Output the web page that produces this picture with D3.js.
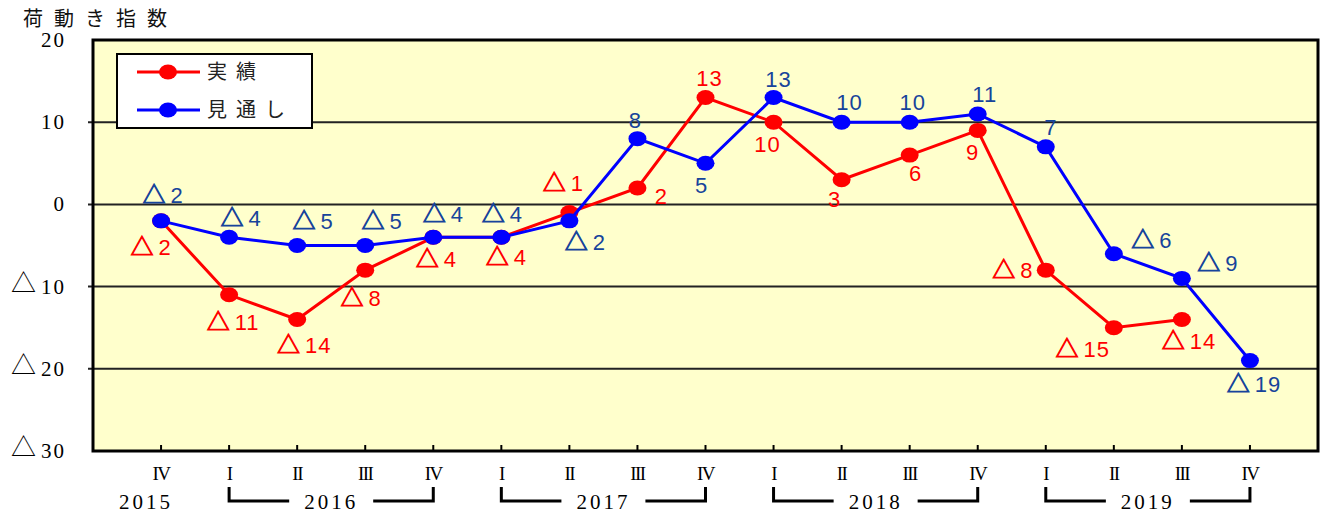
<!DOCTYPE html>
<html>
<head>
<meta charset="utf-8">
<script src="https://cdn.jsdelivr.net/npm/d3@7"></script>
<style>
  body { margin: 0; background: #fff; }
  text { font-family: "Liberation Serif", "Noto Sans CJK JP", serif; }
  .lbl { font-family: "Liberation Sans", sans-serif; font-size: 22px; letter-spacing: 1px; }
  .tri { font-family: "Noto Sans CJK JP", sans-serif; }
  .jp { font-family: "Noto Sans CJK JP", sans-serif; }
</style>
</head>
<body>
<script>
// quarters along the x axis, 2015 IV .. 2019 IV
var quarters = ["IV", "I", "II", "III", "IV", "I", "II", "III", "IV", "I", "II", "III", "IV", "I", "II", "III", "IV"];
var actual  = [-2, -11, -14, -8, -4, -4, -1, 2, 13, 10, 3, 6, 9, -8, -15, -14, null];
var outlook = [-2, -4, -5, -5, -4, -4, -2, 8, 5, 13, 10, 10, 11, 7, -6, -9, -19];
var years = [
  {label: "2015", from: 0, to: 0},
  {label: "2016", from: 1, to: 4},
  {label: "2017", from: 5, to: 8},
  {label: "2018", from: 9, to: 12},
  {label: "2019", from: 13, to: 16}
];
var yTicks = [20, 10, 0, -10, -20, -30];
var gridTicks = [10, 0, -10, -20];

// where each value label sits relative to its point
var actualLabelPos = [[-10,26],[4,27],[7,26],[-4,28],[3,22],[5,20],[-6,-30],[24,8],[4,-19],[-6,22],[-7,19],[6,18],[-5,22],[-33,0],[-31,21],[7,22],null];
var outlookLabelPos = [[2,-26],[12,-19],[16,-24],[17,-24],[10,-23],[1,-23],[16,21],[-2,-19],[-4,22],[5,-18],[8,-20],[3,-20],[7,-20],[5,-20],[38,-14],[36,-15],[4,23]];

var W = 1322, H = 513;
var pLeft = 93, pRight = 1318, pTop = 40, pBottom = 451;

var svg = d3.select("body").append("svg").attr("width", W).attr("height", H);

var x = d3.scalePoint().domain(d3.range(quarters.length)).range([pLeft, pRight]).padding(1);
var y = d3.scaleLinear().domain([-30, 20]).range([pBottom, pTop]);

// plot background
svg.append("rect").attr("x", pLeft).attr("y", pTop).attr("width", pRight - pLeft).attr("height", pBottom - pTop)
  .attr("fill", "#ffffcc");

// grid lines
svg.selectAll(".grid").data(gridTicks).enter().append("line")
  .attr("x1", pLeft - 5).attr("x2", pRight)
  .attr("y1", d => y(d)).attr("y2", d => y(d))
  .attr("stroke", "#222").attr("stroke-width", 2);

// bottom ticks
svg.selectAll(".xt").data(d3.range(quarters.length)).enter().append("line")
  .attr("x1", d => x(d)).attr("x2", d => x(d))
  .attr("y1", pBottom).attr("y2", pBottom - 6)
  .attr("stroke", "#000").attr("stroke-width", 2);

// frame
svg.append("rect").attr("x", pLeft).attr("y", pTop).attr("width", pRight - pLeft).attr("height", pBottom - pTop)
  .attr("fill", "none").attr("stroke", "#000").attr("stroke-width", 3);

// y labels
svg.selectAll(".yl").data(yTicks).enter().append("text")
  .attr("x", 66).attr("y", d => y(d) + 7)
  .attr("text-anchor", "end").attr("font-size", 21).attr("letter-spacing", 2)
  .each(function(d) {
    var t = d3.select(this);
    if (d < 0) t.append("tspan").attr("class", "tri").attr("font-size", 25).attr("dy", -2).text("△");
    t.append("tspan").attr("dx", d < 0 ? 3 : 0).attr("dy", d < 0 ? 2 : 0).text(Math.abs(d));
  });

// title
svg.append("text").attr("class", "jp").attr("x", 23).attr("y", 19).attr("dy", "0.35em")
  .attr("font-size", 20).attr("letter-spacing", 11).attr("fill", "#111").text("荷動き指数");

// quarter labels
svg.selectAll(".q").data(quarters).enter().append("text")
  .attr("x", (d, i) => x(i)).attr("y", 473).attr("dy", "0.35em")
  .attr("text-anchor", "middle").attr("font-size", 19).attr("letter-spacing", -1.5)
  .text(d => d);

// year labels and brackets
years.forEach(function(yr) {
  var x0 = x(yr.from), x1 = x(yr.to), cx = (x0 + x1) / 2;
  if (yr.from === yr.to) cx = x0 - 15;
  svg.append("text").attr("x", cx).attr("y", 502).attr("dy", "0.35em")
    .attr("text-anchor", "middle").attr("font-size", 21).attr("letter-spacing", 3).text(yr.label);
  if (yr.from !== yr.to) {
    svg.append("path")
      .attr("d", "M" + x0 + ",487V501H" + (cx - 42) + "M" + (cx + 42) + ",501H" + x1 + "V487")
      .attr("fill", "none").attr("stroke", "#000").attr("stroke-width", 3);
  }
});

var line = d3.line().defined(d => d != null).x((d, i) => x(i)).y(d => y(d));

function drawSeries(vals, color, labelColor, pos) {
  svg.append("path").datum(vals).attr("d", line)
    .attr("fill", "none").attr("stroke", color).attr("stroke-width", 3);
  var pts = vals.map((v, i) => ({v: v, i: i})).filter(d => d.v != null);
  svg.selectAll(null).data(pts).enter().append("ellipse")
    .attr("cx", d => x(d.i)).attr("cy", d => y(d.v)).attr("rx", 9).attr("ry", 7.5)
    .attr("fill", color);
  svg.selectAll(null).data(pts).enter().append("text").attr("class", "lbl")
    .attr("x", d => x(d.i) + pos[d.i][0]).attr("y", d => y(d.v) + pos[d.i][1]).attr("dy", "0.36em")
    .attr("text-anchor", "middle").attr("fill", labelColor)
    .each(function(d) {
      var t = d3.select(this);
      if (d.v < 0) t.append("tspan").attr("class", "tri").attr("font-size", 23)
        .attr("stroke", labelColor).attr("stroke-width", 0.9).text("△");
      t.append("tspan").attr("dx", d.v < 0 ? 4 : 0).text(Math.abs(d.v));
    });
}

drawSeries(actual, "#ff0000", "#ff0000", actualLabelPos);
drawSeries(outlook, "#0000ff", "#17449b", outlookLabelPos);

// legend
var lg = svg.append("g");
lg.append("rect").attr("x", 117).attr("y", 54).attr("width", 195).attr("height", 74)
  .attr("fill", "#fff").attr("stroke", "#000").attr("stroke-width", 2);
[["実績", "#ff0000", 72], ["見通し", "#0000ff", 110]].forEach(function(e) {
  lg.append("line").attr("x1", 137).attr("x2", 200).attr("y1", e[2]).attr("y2", e[2])
    .attr("stroke", e[1]).attr("stroke-width", 3);
  lg.append("ellipse").attr("cx", 168).attr("cy", e[2]).attr("rx", 9).attr("ry", 7.5).attr("fill", e[1]);
  lg.append("text").attr("class", "jp").attr("x", 207).attr("y", e[2]).attr("dy", "0.35em")
    .attr("font-size", 20).attr("letter-spacing", 9).attr("fill", "#222").text(e[0]);
});
</script>
</body>
</html>
